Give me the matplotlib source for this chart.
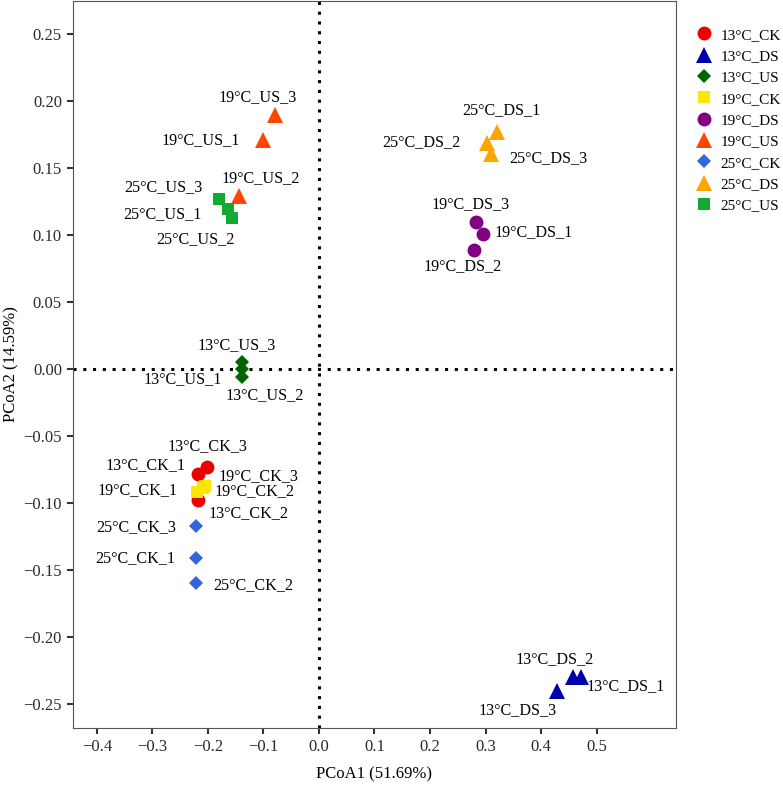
import matplotlib
matplotlib.use('Agg')
import matplotlib.pyplot as plt
from matplotlib.lines import Line2D
import numpy as np

plt.rc('font', family=['Liberation Serif', 'DejaVu Serif'])
plt.rc('mathtext', fontset='stix')

# groups, styles
groups = ['13°C_CK', '13°C_DS', '13°C_US', '19°C_CK', '19°C_DS',
          '19°C_US', '25°C_CK', '25°C_DS', '25°C_US']
colours = ['#EE0000', '#0000AA', '#006400', '#FFE600', '#800080',
           '#FF4500', '#3366DD', '#FFA500', '#11AA33']
shapes = ['o', '^', 'D', 's', 'o', '^', 'D', '^', 's']
msizes = [10, 11, 7, 9, 10, 11, 7, 11, 9]

# sample coordinates (PCoA1, PCoA2)
samples = ['13°C_CK_1', '13°C_CK_2', '13°C_CK_3',
           '13°C_DS_1', '13°C_DS_2', '13°C_DS_3',
           '13°C_US_1', '13°C_US_2', '13°C_US_3',
           '19°C_CK_1', '19°C_CK_2', '19°C_CK_3',
           '19°C_DS_1', '19°C_DS_2', '19°C_DS_3',
           '19°C_US_1', '19°C_US_2', '19°C_US_3',
           '25°C_CK_1', '25°C_CK_2', '25°C_CK_3',
           '25°C_DS_1', '25°C_DS_2', '25°C_DS_3',
           '25°C_US_1', '25°C_US_2', '25°C_US_3']
pc1 = [-0.217, -0.217, -0.201,
       0.472, 0.457, 0.428,
       -0.139, -0.139, -0.139,
       -0.220, -0.208, -0.205,
       0.295, 0.279, 0.283,
       -0.101, -0.144, -0.079,
       -0.222, -0.222, -0.222,
       0.320, 0.303, 0.309,
       -0.163, -0.157, -0.180]
pc2 = [-0.078, -0.098, -0.073,
       -0.230, -0.230, -0.240,
       0.000, -0.006, 0.005,
       -0.092, -0.089, -0.087,
       0.101, 0.089, 0.110,
       0.171, 0.129, 0.190,
       -0.141, -0.160, -0.117,
       0.177, 0.169, 0.161,
       0.120, 0.113, 0.127]

# label offsets in pixels (dx, dy), repel-style placement
offsets = [(-53, 8), (50, -13), (0, 21),
           (45, -9), (-18, 18), (-39, -20),
           (-59, -10), (23, -18), (-5, 17),
           (-59, 2), (51, -3), (53, 10),
           (51, 2), (-11, -16), (-6, 18),
           (-62, 0), (22, 18), (-17, 18),
           (-60, 0), (58, -2), (-60, -1),
           (5, 22), (-66, 1), (58, -4),
           (-66, -6), (-36, -21), (-56, 12)]

W, H, DPI = 783, 787, 100
fig = plt.figure(figsize=(W / DPI, H / DPI), dpi=DPI)
ax = fig.add_axes([73 / W, 59 / H, (676 - 73) / W, (786 - 59) / H])

ax.axvline(0, color='black', lw=2.2, linestyle=(0, (1, 2.2)), dash_capstyle='butt', zorder=1)
ax.axhline(0, color='black', lw=2.2, linestyle=(0, (1, 2.2)), dash_capstyle='butt', zorder=1)

pt = 72 / DPI
for s, x, y, (dx, dy) in zip(samples, pc1, pc2, offsets):
    g = groups.index(s[:-2])
    ax.plot(x, y, linestyle='none', marker=shapes[g], color=colours[g],
            markersize=msizes[g], markeredgewidth=0, zorder=3)
    ax.annotate(s, (x, y), xytext=(dx * pt, dy * pt), textcoords='offset points',
                ha='center', va='center', fontsize=11.6, zorder=4)

ax.set_xlim(-0.443, 0.643)
ax.set_ylim(-0.268, 0.275)
ax.set_xticks(np.arange(-0.4, 0.51, 0.1))
ax.set_xticklabels(['\u22120.4', '\u22120.3', '\u22120.2', '\u22120.1', '0.0',
                    '0.1', '0.2', '0.3', '0.4', '0.5'])
yt = np.arange(-0.25, 0.26, 0.05)
ax.set_yticks(yt)
ax.set_yticklabels([('%.2f' % v).replace('-', '\u2212') if abs(v) > 1e-9 else '0.00' for v in yt])
ax.tick_params(direction='out', length=4, width=1.5, color='#333333',
               labelsize=12, labelcolor='#2a2a2a', pad=4)
for sp in ax.spines.values():
    sp.set_color('#555555')
    sp.set_linewidth(0.8)

ax.set_xlabel('PCoA1 (51.69%)', fontsize=12, labelpad=8)
ax.set_ylabel('PCoA2 (14.59%)', fontsize=12, labelpad=3)

handles = [Line2D([], [], linestyle='none', marker=m, color=c, markersize=ms,
                  markeredgewidth=0) for m, c, ms in zip(shapes, colours, msizes)]
ax.legend(handles, groups, loc='upper left', bbox_to_anchor=(689 / W, 1 - 22 / H),
          bbox_transform=fig.transFigure, frameon=False, fontsize=11,
          handlelength=1.2, handletextpad=0.45, labelspacing=0.5, borderaxespad=0)

fig.savefig('out.png', dpi=DPI)
